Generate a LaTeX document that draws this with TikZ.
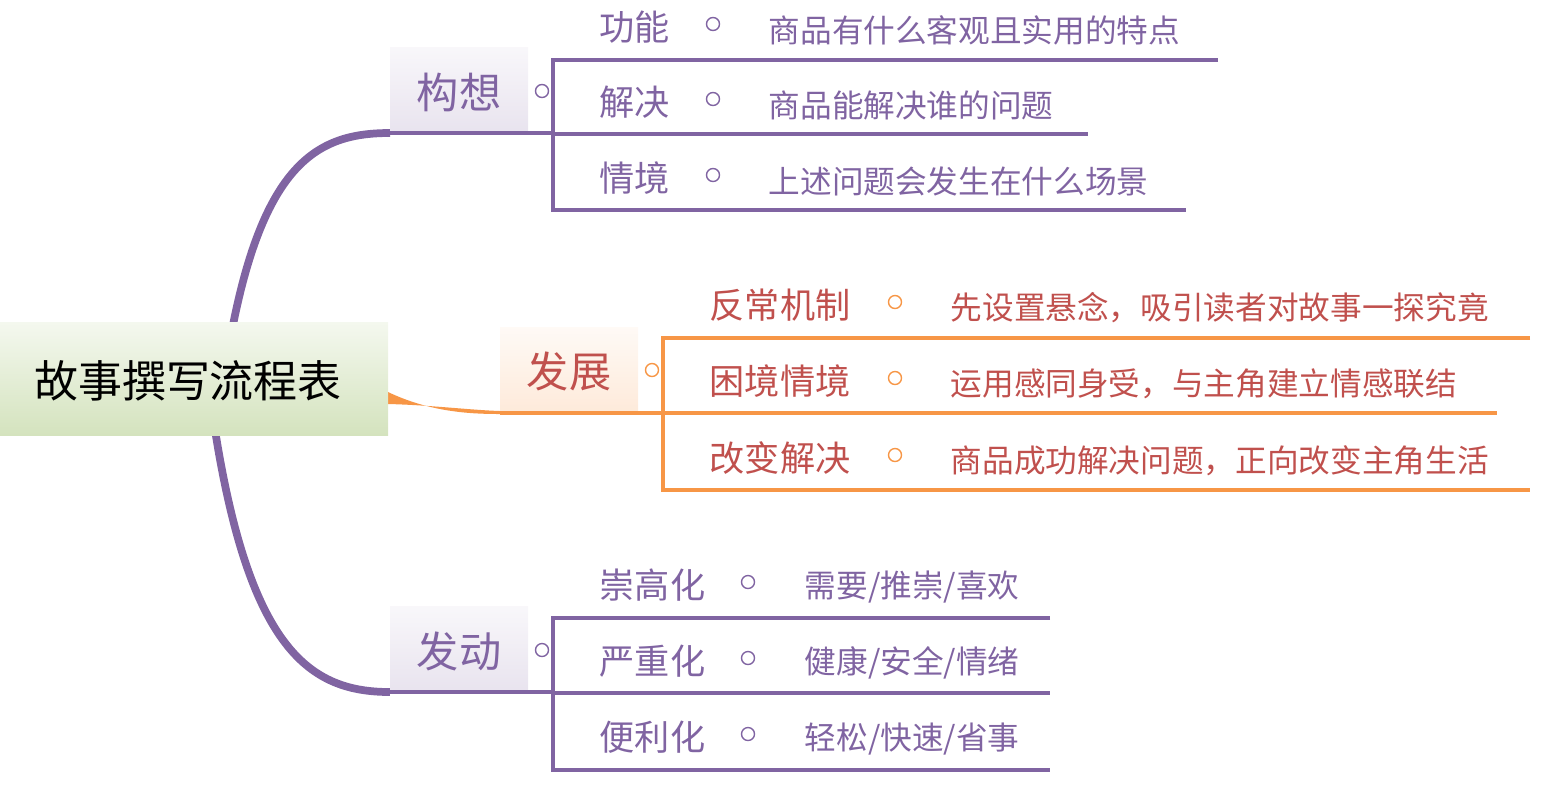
\documentclass[tikz,border=0pt]{standalone}
\usepackage{fontspec}
\setmainfont{Noto Sans CJK SC}
\usetikzlibrary{positioning}

\definecolor{lila}{HTML}{8064A2}
\definecolor{orng}{HTML}{F79646}
\definecolor{rott}{HTML}{C0504D}
\definecolor{gruenu}{HTML}{D4E3BE}
\tikzset{
  topic/.style={inner sep=0pt, font=\fontsize{12}{14}\selectfont},
  sub/.style={anchor=west, inner sep=0pt, font=\fontsize{10}{12}\selectfont},
  note/.style={anchor=west, inner sep=0pt, font=\fontsize{9}{11}\selectfont},
  fold/.style={circle, draw, inner sep=0pt, minimum size=0.13cm, line width=0.4pt},
}

\begin{document}
\begin{tikzpicture}[x=0.01cm,y=-0.01cm]
  \useasboundingbox (0,0) rectangle (1552,790);
  % Aeste
  \draw[lila, line width=2.2pt] (232,330) .. controls (265,160) and (320,133) .. (390,133);
  \draw[lila, line width=2.2pt] (215,430) .. controls (250,650) and (310,692) .. (390,692);
  \fill[orng] (388,392) .. controls (430,412) and (470,414) .. (500,414)
     -- (500,411) .. controls (470,410) and (430,405) .. (388,404) -- cycle;
  % Wurzel
  \shade[top color=gruenu!25!white, bottom color=gruenu] (0,322) rectangle (388,435);
  \node[topic, font=\fontsize{12.5}{15}\selectfont] (wurzel) at (188,381) {故事撰写流程表};

  % Hauptthemen
  \shade[top color=lila!5, bottom color=lila!18] (390,47) rectangle (528,133);
  \node[topic, text=lila] (konzept) at (459,92) {构想};
  \shade[top color=orng!5, bottom color=orng!20] (500,327) rectangle (638,412);
  \node[topic, text=rott] (entw) at (569,371) {发展};
  \shade[top color=lila!5, bottom color=lila!18] (390,606) rectangle (528,692);
  \node[topic, text=lila] (start) at (459,651) {发动};

  \node[fold, draw=lila] at (542,91) {};
  \node[fold, draw=orng] at (652,370) {};
  \node[fold, draw=lila] at (542,650) {};

  % Klammern
  \draw[lila, line width=1.2pt] (390,133) -- (553,133);
  \draw[lila, line width=1.2pt] (1218,60) -- (553,60) -- (553,210) -- (1186,210);
  \draw[lila, line width=1.2pt] (553,134) -- (1088,134);
  \draw[orng, line width=1.2pt] (500,413) -- (663,413);
  \draw[orng, line width=1.2pt] (1530,338) -- (663,338) -- (663,490) -- (1530,490);
  \draw[orng, line width=1.2pt] (663,413) -- (1497,413);
  \draw[lila, line width=1.2pt] (390,692) -- (553,692);
  \draw[lila, line width=1.2pt] (1050,618) -- (553,618) -- (553,770) -- (1050,770);
  \draw[lila, line width=1.2pt] (553,693) -- (1050,693);

  % Unterpunkte
  \foreach \y/\a/\b in {27/功能/商品有什么客观且实用的特点, 102/解决/商品能解决谁的问题,
      178/情境/上述问题会发生在什么场景} {
    \node[sub, text=lila] at (599,\y) {\a};
    \node[fold, draw=lila] at (713,\y-3) {};
    \node[note, text=lila] at (768,\y+3) {\b};
  }
  \foreach \y/\a/\b in {305/反常机制/先设置悬念，吸引读者对故事一探究竟,
      381/困境情境/运用感同身受，与主角建立情感联结,
      458/改变解决/商品成功解决问题，正向改变主角生活} {
    \node[sub, text=rott] at (709,\y) {\a};
    \node[fold, draw=orng] at (895,\y-3) {};
    \node[note, text=rott] at (950,\y+3) {\b};
  }
  \foreach \y/\a/\b in {585/崇高化/{需要/推崇/喜欢}, 661/严重化/{健康/安全/情绪},
      737/便利化/{轻松/快速/省事}} {
    \node[sub, text=lila] at (599,\y) {\a};
    \node[fold, draw=lila] at (748,\y-3) {};
    \node[note, text=lila] at (804,\y+2) {\b};
  }
\end{tikzpicture}
\end{document}
